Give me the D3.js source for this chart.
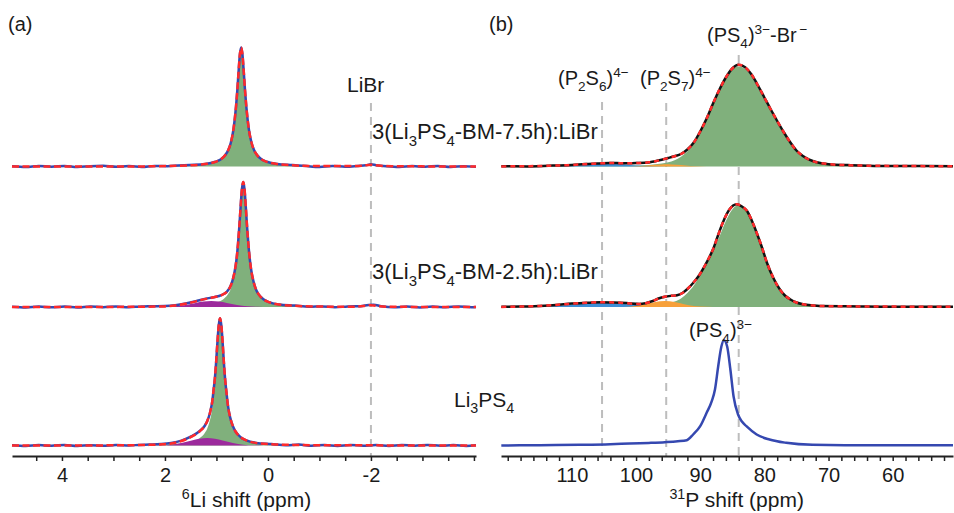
<!DOCTYPE html>
<html><head><meta charset="utf-8">
<script src="https://cdn.jsdelivr.net/npm/d3@7"></script>
<style>
body{margin:0;background:#fff}
svg{display:block}
text{font-family:"Liberation Sans",Arial,Helvetica,sans-serif;fill:#1a1a1a}
</style>
</head><body>
<svg id="c" width="954" height="513"></svg>
<script>
// ---------------- DATA ----------------
// Panel (a): 6Li MAS NMR, [ppm, intensity]
const liTickLabels = [4, 2, 0, -2];
const liRefLines = [-2];

const expLiTop = [[4.97,0.2],[4.7,-0.5],[4.45,0.6],[4.2,-0.2],[3.95,0.5],[3.7,-0.6],[3.45,0.3],[3.2,0.7],[2.95,-0.3],[2.7,0.4],[2.45,-0.4],[2.2,0.6],[1.95,0.3],[1.75,1.0],[1.52,1.6],[1.22,2.6],[1.02,4.8],[0.92,7],[0.82,12],[0.77,16.4],[0.72,24],[0.67,37],[0.62,60],[0.595,76],[0.57,95],[0.545,112],[0.52,119],[0.495,112],[0.47,95],[0.445,76],[0.42,60],[0.37,37],[0.32,24],[0.27,16.4],[0.22,12],[0.12,7],[0.02,4.8],[-0.18,2.6],[-0.48,1.5],[-0.75,0.4],[-1.0,-0.4],[-1.25,0.5],[-1.5,-0.2],[-1.75,0.6],[-1.9,1.2],[-2.0,2.2],[-2.1,1.3],[-2.3,0.2],[-2.55,-0.5],[-2.8,0.4],[-3.05,-0.3],[-3.3,0.6],[-3.55,-0.4],[-3.8,0.3],[-4.04,-0.2]];
const fitLiTop = [[4.97,0],[2.5,0.1],[1.52,1.2],[1.22,2.4],[1.02,4.6],[0.92,7],[0.82,12],[0.77,16.4],[0.72,24],[0.67,37],[0.62,60],[0.595,76],[0.57,95],[0.545,112],[0.52,119],[0.495,112],[0.47,95],[0.445,76],[0.42,60],[0.37,37],[0.32,24],[0.27,16.4],[0.22,12],[0.12,7],[0.02,4.6],[-0.18,2.4],[-0.48,1.2],[-1.0,0.4],[-1.6,0.4],[-1.85,0.9],[-2.0,1.8],[-2.15,0.9],[-2.4,0.3],[-4.04,0]];
const greenLiTop = [[2.5,0],[1.52,1.2],[1.22,2.4],[1.02,4.6],[0.92,7],[0.82,12],[0.77,16.4],[0.72,24],[0.67,37],[0.62,60],[0.595,76],[0.57,95],[0.545,112],[0.52,119],[0.495,112],[0.47,95],[0.445,76],[0.42,60],[0.37,37],[0.32,24],[0.27,16.4],[0.22,12],[0.12,7],[0.02,4.6],[-0.18,2.4],[-0.48,1.2],[-1.3,0]];

const expLiMid = [[4.97,0.3],[4.7,-0.4],[4.45,0.5],[4.2,-0.3],[3.95,0.4],[3.7,-0.5],[3.45,0.6],[3.2,-0.2],[2.95,0.5],[2.7,-0.3],[2.45,0.6],[2.2,0.7],[2.0,0.9],[1.8,1.8],[1.6,3.5],[1.4,5.8],[1.25,7.8],[1.1,9.4],[0.95,11],[0.85,13.2],[0.8,15.2],[0.73,20.4],[0.68,27.9],[0.63,40.4],[0.605,50],[0.58,64],[0.555,81],[0.53,100.6],[0.505,118],[0.48,125],[0.455,117.8],[0.43,100],[0.405,80],[0.38,62.8],[0.33,38.6],[0.28,25.4],[0.23,17.2],[0.18,12.6],[0.08,7.4],[-0.02,4.8],[-0.22,2.5],[-0.52,1.4],[-0.8,0.2],[-1.05,0.6],[-1.3,-0.3],[-1.55,0.5],[-1.8,0.8],[-1.95,2.0],[-2.05,2.3],[-2.2,0.8],[-2.45,-0.3],[-2.7,0.5],[-2.95,-0.4],[-3.2,0.4],[-3.45,-0.2],[-3.7,0.6],[-3.95,-0.3],[-4.04,0]];
const fitLiMid = [[4.97,0],[3.0,0.1],[2.2,0.4],[2.0,0.6],[1.8,1.5],[1.6,3.3],[1.4,5.6],[1.25,7.6],[1.1,9.2],[0.95,10.9],[0.85,13.2],[0.8,15.2],[0.73,20.4],[0.68,27.9],[0.63,40.4],[0.605,50],[0.58,64],[0.555,81],[0.53,100.6],[0.505,118],[0.48,125],[0.455,117.8],[0.43,100],[0.405,80],[0.38,62.8],[0.33,38.6],[0.28,25.4],[0.23,17.2],[0.18,12.6],[0.08,7.4],[-0.02,4.8],[-0.22,2.5],[-0.52,1.2],[-1.0,0.4],[-1.6,0.3],[-1.85,0.9],[-2.0,1.8],[-2.15,0.9],[-2.4,0.2],[-4.04,0]];
const greenLiMid = [[2.3,0],[1.48,1.2],[1.18,2.5],[0.98,4.8],[0.88,7.3],[0.78,12.4],[0.73,17],[0.68,25],[0.63,38],[0.605,48],[0.58,62],[0.555,79],[0.53,99],[0.505,116],[0.48,124],[0.455,116],[0.43,99],[0.405,79],[0.38,62],[0.355,48],[0.33,38],[0.28,25],[0.23,17],[0.18,12.4],[0.08,7.3],[-0.02,4.8],[-0.22,2.5],[-0.52,1.2],[-1.3,0]];
const purpleLiMid = [[2.2,0],[2.0,0.18],[1.8,0.72],[1.6,2.0],[1.4,4.1],[1.25,5.45],[1.1,6],[0.95,5.45],[0.8,4.1],[0.6,2.0],[0.4,0.72],[0.2,0.18],[0.0,0]];

const expLiBot = [[4.97,0.2],[4.7,-0.5],[4.45,0.4],[4.2,-0.2],[3.95,0.6],[3.7,-0.4],[3.45,0.3],[3.2,-0.3],[2.95,0.5],[2.7,0.1],[2.5,0.6],[2.3,0.9],[2.08,1.4],[1.88,2.5],[1.68,4.9],[1.48,9.3],[1.33,14.3],[1.23,19.5],[1.18,24.3],[1.13,31.8],[1.08,44.5],[1.055,55.8],[1.03,67.5],[1.005,84.2],[0.98,103.9],[0.955,120.6],[0.93,127.3],[0.905,120],[0.88,103],[0.855,82.6],[0.83,65.3],[0.805,53],[0.78,41.2],[0.73,27.4],[0.68,19.2],[0.63,14],[0.53,8.3],[0.43,5.3],[0.23,2.6],[-0.07,1.4],[-0.35,0.3],[-0.6,0.9],[-0.85,-0.2],[-1.1,0.5],[-1.35,-0.4],[-1.6,0.5],[-1.85,-0.2],[-2.1,0.4],[-2.35,-0.4],[-2.6,0.5],[-2.85,-0.2],[-3.1,0.6],[-3.35,-0.3],[-3.6,0.5],[-3.85,-0.4],[-4.04,0.2]];
const fitLiBot = [[4.97,0],[3.0,0.15],[2.3,0.65],[2.08,1.1],[1.88,2.1],[1.68,4.5],[1.48,8.9],[1.33,14],[1.23,19.5],[1.18,24.3],[1.13,31.8],[1.08,44.5],[1.055,55.8],[1.03,67.5],[1.005,84.2],[0.98,103.9],[0.955,120.6],[0.93,127.3],[0.905,120],[0.88,103],[0.855,82.6],[0.83,65.3],[0.805,53],[0.78,41.2],[0.73,27.4],[0.68,19.2],[0.63,14],[0.53,8.3],[0.43,5.3],[0.23,2.55],[-0.07,1.25],[-0.5,0.6],[-1.0,0.3],[-4.04,0]];
const greenLiBot = [[2.3,0],[1.93,1.25],[1.63,2.4],[1.43,4.7],[1.33,7.2],[1.23,12.2],[1.18,16.8],[1.13,24.4],[1.08,37.5],[1.055,49],[1.03,61],[1.005,78],[0.98,98],[0.955,115],[0.93,122],[0.905,115],[0.88,98],[0.855,78],[0.83,61],[0.805,49],[0.78,37.5],[0.73,24.4],[0.68,16.8],[0.63,12.2],[0.53,7.2],[0.43,4.7],[0.23,2.4],[-0.07,1.25],[-0.9,0]];
const purpleLiBot = [[2.3,0],[2.08,0.18],[1.88,0.79],[1.68,2.38],[1.48,4.96],[1.33,6.77],[1.18,7.5],[1.03,6.77],[0.88,4.96],[0.68,2.38],[0.48,0.79],[0.28,0.18],[0.08,0]];

// Panel (b): 31P MAS NMR, [ppm, intensity]
const pTickLabels = [110, 100, 90, 80, 70, 60];
const pRefLines = [105.3, 95.3, 84];

const expPTop = [[121,0.2],[117,0.1],[113,0.9],[110,1.4],[108,2.4],[106,3.0],[104,3.6],[102,3.2],[100,3.5],[98,4.1],[97,5.3],[96,6.8],[95,8.5],[94,10.3],[93,12.5],[92,17],[91,24],[90,35],[89,48],[88,63],[87,77],[86,89],[85,98],[84,101.7],[83,99.3],[82,92],[81,81],[80,69],[79,57],[78,45.5],[77,34.5],[76,24.5],[75,16],[74,10.5],[73,6.8],[72,4.5],[70,2.3],[67,1.4],[62,0.5],[56,0.5],[50.6,0.2]];
const fitPTop = [[121,0.1],[117,0.3],[113,0.8],[110,1.5],[108,2.3],[106,3.1],[104,3.4],[102,3.3],[100,3.4],[98,4.2],[97,5.2],[96,6.8],[95,8.5],[94,10.3],[93,12.5],[92,17],[91,24],[90,35],[89,48],[88,63],[87,77],[86,89],[85,98],[84,101.7],[83,99.3],[82,92],[81,81],[80,69],[79,57],[78,45.5],[77,34.5],[76,24.5],[75,16],[74,10.5],[73,6.8],[72,4.5],[70,2.4],[67,1.3],[62,0.7],[56,0.4],[50.6,0.3]];
const greenPTop = [[121,0],[118,0.3],[107,0.6],[101,1],[98,1.6],[96,3],[95,4.2],[94,6.2],[93,9.8],[92,15],[91,22.5],[90,33.5],[89,46.5],[88,61.5],[87,76],[86,88],[85,97],[84,100],[83,97.5],[82,90],[81,79],[80,67],[79,55],[78,44],[77,33],[76,23],[75,15],[74,9.5],[73,6],[72,4],[70,2.2],[67,1.3],[61,0.7],[50.6,0]];
const bluePTop = [[116,0],[112,0.3],[110,0.8],[108,1.6],[106,2.4],[104.5,2.6],[103,2.4],[101,1.6],[99,0.8],[97,0.3],[94,0]];
const orangePTop = [[101,0],[99,0.5],[97.5,1.4],[96,2.1],[95.3,2.2],[94.5,2.1],[93,1.4],[91.5,0.6],[89,0.1],[87,0]];

const expPMid = [[121,0.2],[118,0.4],[115,1.1],[112.5,2.0],[110,3.4],[107.5,4.2],[105.5,4.8],[103.5,4.5],[101.5,3.9],[99.5,3.0],[98.5,3.8],[97.4,6],[96.5,8.5],[95.5,10.3],[94.5,11.2],[93.6,11.7],[92.7,14.3],[92,18],[91.1,24],[90.3,30.5],[89.6,37.7],[88.8,47],[88,57.7],[87.2,72],[86.5,84],[85.5,97],[84.3,102.7],[83.5,100.5],[82.7,96],[82,87],[81.2,74.3],[80.4,60],[79.6,44.3],[78.6,29],[77.6,17.7],[76.8,11.5],[76,7.7],[75,4.5],[74,2.7],[72.5,1.5],[71.4,1],[67.2,0.8],[60,0.3],[50.6,0.3]];
const fitPMid = [[121,0],[118,0.5],[115,1],[112.5,2.1],[110,3.3],[107.5,4.3],[105.5,4.7],[103.5,4.6],[101.5,3.8],[99.5,3],[98.5,3.8],[97.4,6],[96.5,8.5],[95.5,10.3],[94.5,11.2],[93.6,11.7],[92.7,14.3],[92,18],[91.1,24],[90.3,30.5],[89.6,37.7],[88.8,47],[88,57.7],[87.2,72],[86.5,84],[85.5,97],[84.3,102.7],[83.5,100.5],[82.7,96],[82,87],[81.2,74.3],[80.4,60],[79.6,44.3],[78.6,29],[77.6,17.7],[76.8,11.5],[76,7.7],[75,4.5],[74,2.7],[72.5,1.5],[71.4,1],[67.2,0.7],[60,0.4],[50.6,0.2]];
const greenPMid = [[121,0],[114,0.4],[104,0.8],[99,1.4],[96,2.6],[94,5.5],[93,8.5],[92,14],[91,21.5],[90,32],[89,44.5],[88,56],[87,70.5],[86,86],[85,97.6],[84,102],[83,97.6],[82,86],[81,70.2],[80,50],[79,34],[78,21],[77,12.5],[76,7.5],[75,4.5],[74,3],[72,1.8],[69,1.1],[64,0.6],[50.6,0]];
const bluePMid = [[118,0],[114,0.5],[112,1.2],[110,2.4],[108,3.7],[106,4.5],[105.5,4.5],[104,4.2],[102,3.2],[100,1.9],[98,0.8],[96,0.3],[93,0]];
const orangePMid = [[102,0],[100,1.0],[98.5,2.7],[97,4.9],[95.5,6],[94,4.9],[92.5,2.7],[91,1.0],[89,0.2],[87,0]];

const expPBot = [[121,0],[115,0.3],[108.8,0.7],[104,1.3],[101,2],[98,2.6],[95.5,3.3],[93.5,4.2],[92.1,5.3],[91.1,11],[90,19.3],[89,32.7],[88.2,44.3],[87.7,56],[87.2,79],[86.7,99],[86.3,105.3],[85.8,99],[85.3,76],[84.8,49],[84.1,31],[83.5,24],[82.8,19.3],[81.2,11],[79.2,6],[76.6,2.7],[72.5,0.7],[65,0.3],[57,0.2],[50.6,0.3]];

// Labels (text content)
const labelLiBr = [["LiBr","n"]];
const labelTop = [["3(Li","n"],["3","sub"],["PS","n"],["4","sub"],["-BM-7.5h):LiBr","n"]];
const labelMid = [["3(Li","n"],["3","sub"],["PS","n"],["4","sub"],["-BM-2.5h):LiBr","n"]];
const labelBot = [["Li","n"],["3","sub"],["PS","n"],["4","sub"]];
const labelP2S6 = [["(P","n"],["2","sub"],["S","n"],["6","sub"],[")","n"],["4\u2212","sup"]];
const labelP2S7 = [["(P","n"],["2","sub"],["S","n"],["7","sub"],[")","n"],["4\u2212","sup"]];
const labelPS4Br = [["(PS","n"],["4","sub"],[")","n"],["3\u2212","sup"],["-Br","n"],["\u2009\u2212","sup"]];
const labelPS4 = [["(PS","n"],["4","sub"],[")","n"],["3\u2212","sup"]];
const titleA = [["6","sup"],["Li shift (ppm)","n"]];
const titleB = [["31","sup"],["P shift (ppm)","n"]];

// ---------------- DRAWING ----------------
const svg = d3.select("#c");
const xA = d3.scaleLinear().domain([4.97, -4.04]).range([12, 476]);
const xB = d3.scaleLinear().domain([121.05, 50.6]).range([501, 953]);
const y = d3.scaleLinear().domain([0, 400]).range([445.5, 45.5]);
const OFF = {top: 279, mid: 138.5, bot: 0};
const AXIS_Y = 456;

const C = {blue:"#3548b0", red:"#ff2a2a", black:"#111", green:"#80b07c", purple:"#9c2a9c",
           comp:"#3d8fd6", orange:"#f7a03a", grid:"#bdbdbd"};

function rich(x, yy, parts, size, anchor) {
  const t = svg.append("text").attr("x", x).attr("y", yy)
    .attr("font-size", size).attr("text-anchor", anchor || "start");
  let shift = 0;
  parts.forEach(([s, kind]) => {
    const target = kind === "sub" ? size * 0.3 : kind === "sup" ? -size * 0.4 : 0;
    const ts = t.append("tspan").attr("dy", target - shift).text(s);
    if (kind !== "n") ts.attr("font-size", size * 0.68);
    shift = target;
  });
  return t;
}

// reference dashed lines
const refG = svg.append("g");
liRefLines.forEach(v => refG.append("line").attr("x1", xA(v)).attr("x2", xA(v))
  .attr("y1", 103).attr("y2", AXIS_Y).attr("stroke", C.grid).attr("stroke-width", 2).attr("stroke-dasharray", "8,6"));
const pTops = [102, 103, 55];
pRefLines.forEach((v, i) => refG.append("line").attr("x1", xB(v)).attr("x2", xB(v))
  .attr("y1", pTops[i]).attr("y2", AXIS_Y).attr("stroke", C.grid).attr("stroke-width", 2).attr("stroke-dasharray", "8,6"));

function area(x, data, off, color) {
  const a = d3.area().x(d => x(d[0])).y0(y(off)).y1(d => y(off + d[1])).curve(d3.curveMonotoneX);
  svg.append("path").datum(data).attr("d", a).attr("fill", color);
}
function line(x, data, off, color, w, dash) {
  const l = d3.line().x(d => x(d[0])).y(d => y(off + d[1])).curve(d3.curveMonotoneX);
  const p = svg.append("path").datum(data).attr("d", l).attr("fill", "none")
    .attr("stroke", color).attr("stroke-width", w).attr("stroke-linejoin", "round");
  if (dash) p.attr("stroke-dasharray", dash);
}

// Panel (a)
area(xA, greenLiTop, OFF.top, C.green);
line(xA, expLiTop, OFF.top, C.blue, 2.5);
line(xA, fitLiTop, OFF.top, C.red, 2.5, "7,3.5");

area(xA, greenLiMid, OFF.mid, C.green);
area(xA, purpleLiMid, OFF.mid, C.purple);
line(xA, expLiMid, OFF.mid, C.blue, 2.5);
line(xA, fitLiMid, OFF.mid, C.red, 2.5, "7,3.5");

area(xA, greenLiBot, OFF.bot, C.green);
area(xA, purpleLiBot, OFF.bot, C.purple);
line(xA, expLiBot, OFF.bot, C.blue, 2.5);
line(xA, fitLiBot, OFF.bot, C.red, 2.5, "7,3.5");

// Panel (b)
area(xB, greenPTop, OFF.top, C.green);
area(xB, bluePTop, OFF.top, C.comp);
area(xB, orangePTop, OFF.top, C.orange);
line(xB, expPTop, OFF.top, C.black, 2.5);
line(xB, fitPTop, OFF.top, C.red, 2.5, "5,4");

area(xB, greenPMid, OFF.mid, C.green);
area(xB, bluePMid, OFF.mid, C.comp);
area(xB, orangePMid, OFF.mid, C.orange);
line(xB, expPMid, OFF.mid, C.black, 2.5);
line(xB, fitPMid, OFF.mid, C.red, 2.5, "5,4");

line(xB, expPBot, OFF.bot, C.blue, 2.5);

// Axes
function axis(x, majors, minors, fmt) {
  const g = svg.append("g").attr("transform", `translate(0,${AXIS_Y})`);
  g.call(d3.axisBottom(x).tickValues(minors).tickSize(5).tickSizeOuter(0).tickPadding(7)
    .tickFormat(d => majors.some(m => Math.abs(m - d) < 1e-9) ? fmt(d) : ""));
  g.select(".domain").attr("stroke", "#222").attr("stroke-width", 2);
  g.selectAll(".tick line").attr("stroke", "#222").attr("stroke-width", 1.5);
  g.selectAll(".tick text").attr("font-size", 20).attr("font-family", "Liberation Sans, Arial, sans-serif").attr("fill", "#1a1a1a");
}
axis(xA, liTickLabels, d3.range(-4, 5, 0.5), d => d < 0 ? "-" + Math.abs(d) : String(d));
axis(xB, pTickLabels, d3.range(52, 122, 2), d => String(d));

// Titles and labels
rich(246.5, 507, titleA, 21, "middle");
rich(736.7, 507, titleB, 21, "middle");
svg.append("text").attr("x", 8).attr("y", 31).attr("font-size", 20).text("(a)");
svg.append("text").attr("x", 489).attr("y", 31).attr("font-size", 20).text("(b)");
rich(347, 91.7, labelLiBr, 21);
rich(372, 139, labelTop, 22);
rich(372, 279, labelMid, 22);
rich(454, 407, labelBot, 21);
rich(558, 85, labelP2S6, 20);
rich(640, 85, labelP2S7, 20);
rich(707, 41.7, labelPS4Br, 20);
rich(689, 337, labelPS4, 20);
</script>
</body></html>
